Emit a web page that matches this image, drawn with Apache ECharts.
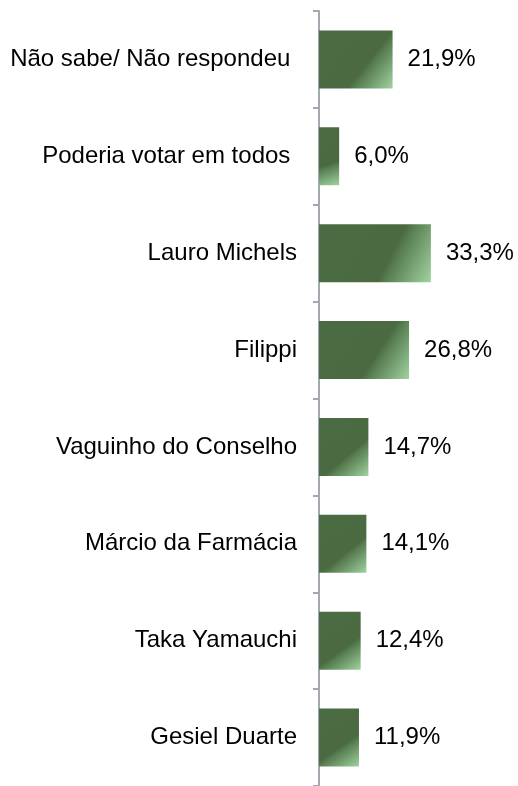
<!DOCTYPE html>
<html>
<head>
<meta charset="utf-8">
<script src="https://cdn.jsdelivr.net/npm/echarts@6/dist/echarts.min.js"></script>
<style>
  html, body { margin: 0; padding: 0; background: #fff; }
  #chart { width: 518px; height: 786px; }
</style>
</head>
<body>
<div id="chart"></div>
<script>
// categories (top to bottom) and their percentages
var candidates = ['Não sabe/ Não respondeu ', 'Poderia votar em todos ', 'Lauro Michels', 'Filippi',
  'Vaguinho do Conselho', 'Márcio da Farmácia', 'Taka Yamauchi', 'Gesiel Duarte']
var percents = [21.9, 6.0, 33.3, 26.8, 14.7, 14.1, 12.4, 11.9]

var chart = echarts.init(document.getElementById('chart'))

chart.setOption({
  animation: false,
  textStyle: { fontFamily: 'Liberation Sans, Arial, sans-serif' },
  grid: {
    left: 319,
    top: 11,
    width: 168,
    height: 779,
    containLabel: false
  },
  xAxis: {
    type: 'value',
    show: false,
    min: 0,
    max: 50
  },
  yAxis: {
    type: 'category',
    inverse: true,
    data: candidates,
    axisLine: { show: true, lineStyle: { color: '#a4a9b1', width: 2 } },
    axisTick: { show: true, length: 6, lineStyle: { color: '#a4a9b1', width: 2 } },
    axisLabel: {
      margin: 22,
      color: '#000',
      fontSize: 24,
      fontFamily: 'Liberation Sans, Arial, sans-serif'
    }
  },
  series: [
    {
      type: 'bar',
      data: percents,
      barWidth: 58,
      itemStyle: {
        color: new echarts.graphic.LinearGradient(0, 0, 1, 1, [
          { offset: 0, color: '#4a6b43' },
          { offset: 0.62, color: '#4b6a42' },
          { offset: 0.67, color: '#577c50' },
          { offset: 1, color: '#a0d3a0' }
        ])
      },
      label: {
        show: true,
        position: 'right',
        distance: 15,
        color: '#000',
        fontSize: 24,
        fontFamily: 'Liberation Sans, Arial, sans-serif',
        formatter: function (p) {
          return p.value.toFixed(1).replace('.', ',') + '%'
        }
      }
    }
  ]
})
</script>
</body>
</html>
